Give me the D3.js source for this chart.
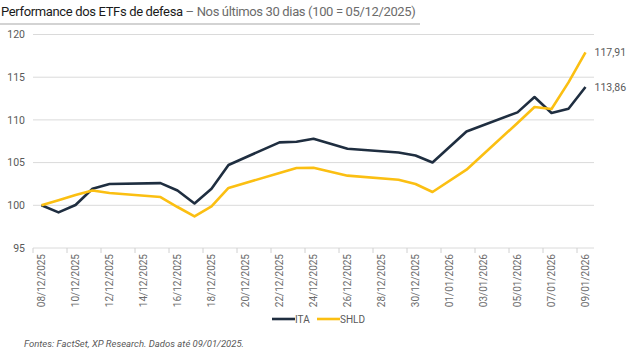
<!DOCTYPE html>
<html><head><meta charset="utf-8">
<script src="https://cdn.jsdelivr.net/npm/d3@7"></script>
<style>body{margin:0;background:#fff}svg{display:block}</style>
</head><body>
<svg id="c" width="639" height="355"></svg>
<script>
const tradingDays = ["2025-12-08","2025-12-09","2025-12-10","2025-12-11","2025-12-12",
  "2025-12-15","2025-12-16","2025-12-17","2025-12-18","2025-12-19",
  "2025-12-22","2025-12-23","2025-12-24","2025-12-26",
  "2025-12-29","2025-12-30","2025-12-31","2026-01-02",
  "2026-01-05","2026-01-06","2026-01-07","2026-01-08","2026-01-09"];
const itaValues = [100,99.17,100.04,101.94,102.49,
  102.6,101.74,100.22,101.94,104.72,
  107.37,107.45,107.8,106.63,
  106.19,105.84,105.02,108.65,
  110.88,112.68,110.81,111.31,113.86];
const shldValues = [100,100.6,101.2,101.74,101.44,
  100.97,99.8,98.7,99.87,102.03,
  103.78,104.37,104.4,103.47,
  103.0,102.49,101.56,104.17,
  109.64,111.51,111.28,114.39,117.91];
const seriesNames = ["ITA","SHLD"];
const seriesColors = ["#1f2e40","#fbbf12"];
const endLabels = ["113,86","117,91"];
const yTicks = [95,100,105,110,115,120];
const xTickLabels = ["08/12/2025","10/12/2025","12/12/2025","14/12/2025","16/12/2025","18/12/2025",
  "20/12/2025","22/12/2025","24/12/2025","26/12/2025","28/12/2025","30/12/2025",
  "01/01/2026","03/01/2026","05/01/2026","07/01/2026","09/01/2026"];
const titleBold = "Performance dos ETFs de defesa";
const titleRest = " – Nos últimos 30 dias (100 = 05/12/2025)";
const footer = "Fontes: FactSet, XP Research. Dados até 09/01/2025.";

const svg = d3.select("#c");
const font = "Roboto, 'Noto Sans', sans-serif";
const parse = s => new Date(s + "T00:00:00Z");
const parseBR = s => { const [d,m,y] = s.split("/"); return new Date(Date.UTC(+y, +m-1, +d)); };
const DAY = 864e5;
const dates = tradingDays.map(parse);
const first = dates[0], last = dates[dates.length-1];

const x = d3.scaleUtc().domain([new Date(+first - DAY/2), new Date(+last + DAY/2)]).range([33, 594]);
const y = d3.scaleLinear().domain([95,120]).range([248, 34.5]);

// title
const t = svg.append("text").attr("x", 1).attr("y", 16).attr("font-family", font).attr("font-size", 13).attr("letter-spacing", -0.35);
t.append("tspan").attr("fill", "#1a1a1a").text(titleBold);
t.append("tspan").attr("fill", "#6b6b6b").text(titleRest);
svg.append("line").attr("x1", 0).attr("x2", 420).attr("y1", 24).attr("y2", 24).attr("stroke", "#a8a8a8").attr("stroke-width", 1.2);

// gridlines
svg.append("g").selectAll("line").data(yTicks).join("line")
  .attr("x1", 33).attr("x2", 594).attr("y1", d => y(d)).attr("y2", d => y(d))
  .attr("stroke", "#dadada").attr("stroke-width", 1);

// y labels
svg.append("g").selectAll("text").data(yTicks).join("text")
  .attr("x", 25).attr("y", d => y(d)).attr("dy", "0.35em").attr("text-anchor", "end")
  .attr("font-family", font).attr("font-size", 10.5).attr("fill", "#595959").text(d => d);

// x ticks & labels
const xDates = xTickLabels.map(parseBR);
svg.append("g").selectAll("line").data(xDates).join("line")
  .attr("x1", d => x(new Date(+d - DAY/2))).attr("x2", d => x(new Date(+d - DAY/2)))
  .attr("y1", 248).attr("y2", 253).attr("stroke", "#d0d0d0");
svg.append("g").selectAll("text").data(xTickLabels).join("text")
  .attr("transform", (d,i) => `translate(${x(xDates[i]) + 3.5},254) rotate(-90)`)
  .attr("text-anchor", "end").attr("font-family", font).attr("font-size", 10).attr("fill", "#6b6b6b")
  .text(d => d);

// lines
const allSeries = [itaValues, shldValues];
const line = d3.line().x((d,i) => x(dates[i])).y(d => y(d));
allSeries.forEach((vals, k) => {
  svg.append("path").datum(vals).attr("d", line).attr("fill", "none")
    .attr("stroke", seriesColors[k]).attr("stroke-width", 2.6).attr("stroke-linejoin", "round");
  svg.append("text").attr("x", x(last) + 9).attr("y", y(vals[vals.length-1])).attr("dy", "0.35em")
    .attr("font-family", font).attr("font-size", 10.5).attr("fill", "#595959").text(endLabels[k]);
});

// legend
const lg = [{x: 272, w: 23}, {x: 317, w: 23}];
seriesNames.forEach((n, k) => {
  svg.append("line").attr("x1", lg[k].x).attr("x2", lg[k].x + lg[k].w).attr("y1", 319).attr("y2", 319)
    .attr("stroke", seriesColors[k]).attr("stroke-width", 2.6);
  svg.append("text").attr("x", lg[k].x + lg[k].w).attr("y", 319).attr("dy", "0.35em")
    .attr("font-family", font).attr("font-size", 10).attr("fill", "#595959").text(n);
});

// footer
svg.append("text").attr("x", 24).attr("y", 347).attr("font-family", font).attr("font-size", 9.5)
  .attr("font-style", "italic").attr("fill", "#595959").text(footer);
</script>
</body></html>
